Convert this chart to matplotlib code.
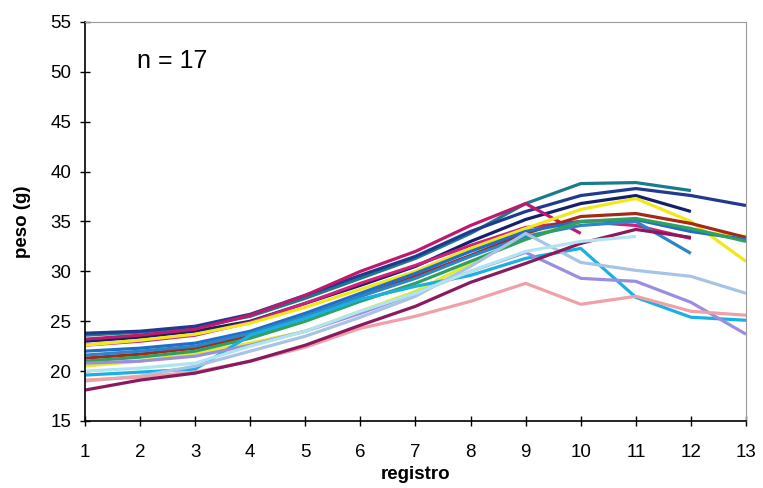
import numpy as np
import matplotlib.pyplot as plt

nan = np.nan
registro = np.arange(1, 14)

# pesos por individuo (g)
pesos = [
    [23.6, 23.9, 24.4, 25.5, 27.3, 29.3, 31.3, 33.8, 36.8, 38.8, 38.9, 38.1, nan],
    [23.8, 24.0, 24.5, 25.7, 27.6, 29.6, 31.5, 34.0, 36.0, 37.6, 38.3, 37.6, 36.6],
    [23.0, 23.4, 24.0, 25.0, 26.8, 28.6, 30.5, 33.0, 35.2, 36.8, 37.6, 36.0, nan],
    [23.2, 23.6, 24.2, 25.6, 27.6, 30.0, 32.0, 34.6, 36.8, 33.8, nan, nan, nan],
    [22.6, 23.0, 23.6, 24.9, 26.8, 28.8, 30.6, 32.6, 34.4, 35.0, 34.6, 33.3, nan],
    [22.6, 23.1, 23.7, 24.8, 26.4, 28.2, 30.0, 32.3, 34.3, 36.2, 37.3, 35.0, 31.0],
    [20.5, 21.0, 21.8, 22.8, 24.0, 26.0, 28.0, 30.8, 33.5, 34.8, 35.2, 34.0, 33.5],
    [21.3, 21.7, 22.3, 23.5, 25.4, 27.5, 29.5, 31.6, 33.8, 35.5, 35.8, 34.8, 33.4],
    [22.0, 22.3, 22.8, 24.0, 25.8, 27.8, 29.8, 32.0, 34.0, 35.0, 35.2, 34.0, 33.2],
    [21.6, 22.0, 22.5, 23.8, 25.5, 27.5, 29.3, 31.5, 33.5, 34.6, 35.0, 31.8, nan],
    [21.0, 21.4, 22.0, 23.3, 25.0, 27.0, 28.8, 31.0, 33.2, 35.0, 35.3, 34.3, 33.0],
    [19.6, 19.9, 20.2, 23.6, 25.3, 27.2, 28.5, 29.6, 31.3, 32.3, 27.4, 25.4, 25.1],
    [20.8, 21.0, 21.5, 22.6, 24.0, 25.8, 27.8, 30.0, 31.9, 29.3, 29.0, 26.9, 23.7],
    [19.0, 19.5, 20.5, 22.0, 23.5, 25.4, 27.5, 30.5, 33.8, 30.9, 30.1, 29.5, 27.8],
    [19.1, 19.4, 19.9, 21.0, 22.4, 24.3, 25.5, 27.0, 28.8, 26.7, 27.5, 26.0, 25.6],
    [18.1, 19.1, 19.8, 21.0, 22.6, 24.6, 26.5, 28.9, 30.8, 32.8, 34.2, 33.4, nan],
    [20.0, 20.3, 20.8, 22.5, 24.0, 26.0, 27.8, 30.0, 32.0, 33.0, 33.5, nan, nan],
]
colores = ["#1b7b8c", "#203a90", "#15206a", "#c0186c", "#d0207a", "#f0e818",
           "#e4ec30", "#a82818", "#1f6fc8", "#2a86c8", "#30a060", "#1ab0e0",
           "#9b8ee0", "#a8c4e4", "#f0a0a8", "#8a1a5e", "#b0e4f0"]

plt.rcParams['font.family'] = ['Liberation Sans', 'DejaVu Sans']

fig = plt.figure(figsize=(7.63, 4.88), dpi=100)
ax = fig.add_axes([0.1114, 0.1373, 0.8663, 0.8177])

for p, c in zip(pesos, colores):
    ax.plot(registro, p, color=c, lw=2.3, solid_capstyle='butt')

ax.set_xlim(1, 13)
ax.set_ylim(15, 55)
ax.set_xticks(registro)
ax.set_yticks(np.arange(15, 56, 5))
ax.tick_params(direction='inout', length=7, width=1, labelsize=13.5)
ax.tick_params(axis='x', pad=13)
ax.tick_params(axis='y', pad=6.5)
for s in ['top', 'right']:
    ax.spines[s].set_color('#999999')
    ax.spines[s].set_linewidth(0.8)
for s in ['left', 'bottom']:
    ax.spines[s].set_linewidth(1.2)

ax.set_xlabel("registro", fontsize=13.5, fontweight='bold', labelpad=4)
ax.set_ylabel("peso (g)", fontsize=13.5, fontweight='bold', labelpad=14)
ax.text(1.94, 51.1, "n = 17", fontsize=18, va='center')

fig.savefig("out.png", dpi=100)
